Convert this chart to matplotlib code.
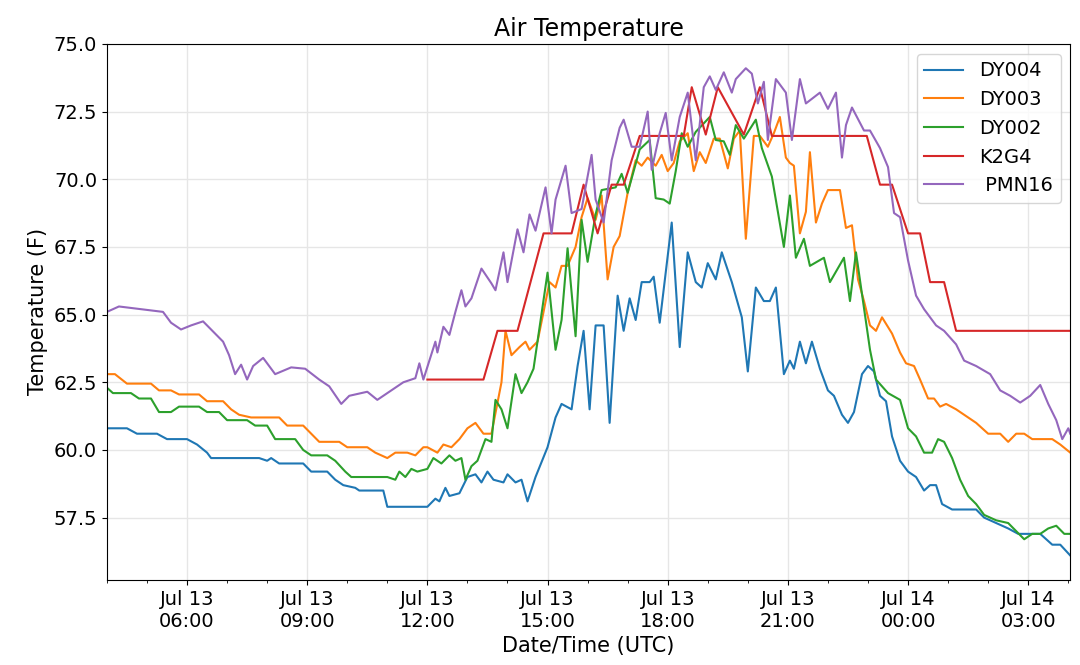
import matplotlib
matplotlib.use("Agg")
import matplotlib.pyplot as plt
import matplotlib.dates as mdates
import numpy as np
from datetime import datetime, timedelta

# hours since 2019-07-13 00:00 UTC, temperature in F
dy004_h = [4.0, 4.5, 4.75, 5.25, 5.5, 6.0, 6.25, 6.5, 6.6, 7.8, 8.0, 8.1, 8.3, 8.9, 9.1, 9.5, 9.7, 9.9, 10.2, 10.3,
           10.9, 11.0, 12.0, 12.2, 12.3, 12.45, 12.55, 12.8, 13.0, 13.2, 13.35, 13.5, 13.65, 13.9, 14.0, 14.2, 14.35,
           14.5, 14.7, 15.0, 15.2, 15.35, 15.6, 15.75, 15.9, 16.05, 16.2, 16.4, 16.55, 16.75, 16.9, 17.05, 17.2, 17.35,
           17.55, 17.65, 17.8, 18.1, 18.3, 18.5, 18.7, 18.85, 19.0, 19.2, 19.35, 19.6, 19.85, 20.0, 20.2, 20.4, 20.55,
           20.7, 20.9, 21.05, 21.15, 21.3, 21.45, 21.6, 21.8, 22.0, 22.15, 22.35, 22.5, 22.65, 22.85, 23.0, 23.15,
           23.3, 23.45, 23.6, 23.8, 24.0, 24.2, 24.4, 24.55, 24.7, 24.85, 25.1, 25.4, 25.7, 25.9, 26.2, 26.5, 26.75,
           27.3, 27.6, 27.8, 28.05]
dy004_v = [60.8, 60.8, 60.6, 60.6, 60.4, 60.4, 60.2, 59.9, 59.7, 59.7, 59.6, 59.7, 59.5, 59.5, 59.2, 59.2, 58.9, 58.7,
           58.6, 58.5, 58.5, 57.9, 57.9, 58.2, 58.1, 58.6, 58.3, 58.4, 59.0, 59.1, 58.8, 59.2, 58.9, 58.8, 59.1, 58.8,
           58.9, 58.1, 59.0, 60.1, 61.2, 61.7, 61.5, 63.1, 64.4, 61.5, 64.6, 64.6, 61.0, 65.7, 64.4, 65.6, 64.8, 66.2,
           66.2, 66.4, 64.7, 68.4, 63.8, 67.3, 66.2, 66.0, 66.9, 66.3, 67.3, 66.2, 64.9, 62.9, 66.0, 65.5, 65.5, 66.0,
           62.8, 63.3, 63.0, 64.0, 63.2, 64.0, 63.0, 62.2, 62.0, 61.3, 61.0, 61.4, 62.8, 63.1, 62.9, 62.0, 61.8, 60.5,
           59.6, 59.2, 59.0, 58.5, 58.7, 58.7, 58.0, 57.8, 57.8, 57.8, 57.5, 57.3, 57.1, 56.9, 56.9, 56.5, 56.5, 56.1]

dy003_h = [4.0, 4.2, 4.5, 5.1, 5.3, 5.6, 5.8, 6.3, 6.5, 6.9, 7.1, 7.3, 7.6, 8.3, 8.5, 8.9, 9.1, 9.3, 9.8, 10.0, 10.5,
           10.7, 11.0, 11.2, 11.5, 11.7, 11.9, 12.0, 12.25, 12.4, 12.6, 12.8, 13.0, 13.2, 13.4, 13.6, 13.85, 13.95,
           14.1, 14.3, 14.45, 14.55, 14.75, 14.9, 15.05, 15.2, 15.35, 15.5, 15.7, 15.85, 16.0, 16.2, 16.35, 16.5,
           16.65, 16.8, 17.0, 17.2, 17.35, 17.5, 17.7, 17.85, 18.0, 18.15, 18.3, 18.5, 18.65, 18.8, 18.95, 19.15,
           19.3, 19.5, 19.65, 19.8, 19.95, 20.15, 20.3, 20.5, 20.65, 20.8, 20.95, 21.05, 21.15, 21.3, 21.45, 21.55,
           21.7, 21.85, 22.0, 22.3, 22.45, 22.6, 22.75, 22.9, 23.05, 23.2, 23.35, 23.6, 23.8, 23.95, 24.15, 24.3,
           24.5, 24.65, 24.8, 24.95, 25.2, 25.5, 25.7, 26.0, 26.3, 26.5, 26.7, 26.9, 27.1, 27.6, 27.8, 28.05]
dy003_v = [62.8, 62.8, 62.45, 62.45, 62.2, 62.2, 62.05, 62.05, 61.8, 61.8, 61.5, 61.3, 61.2, 61.2, 60.9, 60.9, 60.6,
           60.3, 60.3, 60.1, 60.1, 59.9, 59.7, 59.9, 59.9, 59.8, 60.1, 60.1, 59.9, 60.2, 60.1, 60.4, 60.8, 61.0, 60.6,
           60.6, 62.5, 64.4, 63.5, 63.8, 64.0, 63.7, 64.0, 65.1, 66.2, 66.0, 66.8, 66.8, 67.5, 68.6, 69.3, 68.5, 69.4,
           66.3, 67.5, 67.9, 69.5, 70.7, 70.5, 70.8, 70.5, 70.9, 70.3, 70.6, 71.4, 71.7, 70.3, 71.0, 70.6, 71.5, 71.5,
           70.4, 71.5, 71.8, 67.8, 71.6, 71.6, 71.2, 71.7, 72.3, 70.8, 70.6, 70.5, 68.0, 68.8, 71.0, 68.4, 69.1, 69.6,
           69.6, 68.2, 68.3, 66.3, 65.5, 64.6, 64.4, 64.9, 64.3, 63.6, 63.2, 63.1, 62.6, 61.9, 61.9, 61.6, 61.7, 61.5,
           61.2, 61.0, 60.6, 60.6, 60.3, 60.6, 60.6, 60.4, 60.4, 60.2, 59.9]

dy002_h = [4.0, 4.15, 4.6, 4.8, 5.1, 5.3, 5.6, 5.8, 6.3, 6.5, 6.8, 7.0, 7.5, 7.7, 8.0, 8.2, 8.7, 8.9, 9.1, 9.5, 9.7,
           9.95, 10.1, 11.0, 11.2, 11.3, 11.45, 11.6, 11.75, 12.0, 12.15, 12.35, 12.55, 12.7, 12.85, 12.95, 13.1,
           13.25, 13.45, 13.6, 13.7, 13.85, 14.0, 14.2, 14.35, 14.5, 14.65, 15.0, 15.2, 15.35, 15.5, 15.7, 15.85,
           16.0, 16.2, 16.35, 16.7, 16.85, 17.0, 17.3, 17.55, 17.7, 17.9, 18.05, 18.2, 18.35, 18.5, 18.7, 19.05,
           19.2, 19.4, 19.55, 19.7, 19.9, 20.2, 20.35, 20.6, 20.9, 21.05, 21.2, 21.4, 21.55, 21.9, 22.05, 22.4,
           22.55, 22.7, 23.05, 23.2, 23.5, 23.8, 24.0, 24.2, 24.4, 24.6, 24.75, 24.9, 25.1, 25.3, 25.5, 25.7, 25.9,
           26.2, 26.5, 26.7, 26.9, 27.1, 27.3, 27.5, 27.7, 27.9, 28.05]
dy002_v = [62.3, 62.1, 62.1, 61.9, 61.9, 61.4, 61.4, 61.6, 61.6, 61.4, 61.4, 61.1, 61.1, 60.9, 60.9, 60.4, 60.4, 60.0,
           59.8, 59.8, 59.6, 59.2, 59.0, 59.0, 58.9, 59.2, 59.0, 59.3, 59.2, 59.3, 59.7, 59.5, 59.8, 59.6, 59.7, 58.9,
           59.4, 59.6, 60.4, 60.3, 61.85, 61.5, 60.8, 62.8, 62.1, 62.5, 63.0, 66.55, 63.7, 64.8, 67.45, 64.2, 68.5,
           66.95, 68.7, 69.6, 69.7, 70.2, 69.5, 71.1, 71.45, 69.3, 69.25, 69.1, 70.3, 71.7, 71.2, 71.75, 72.3, 71.45,
           71.4, 70.9, 72.0, 71.5, 72.2, 71.15, 70.1, 67.5, 69.4, 67.1, 67.8, 66.8, 67.1, 66.2, 67.1, 65.5, 67.3,
           63.7, 62.6, 62.1, 61.85, 60.8, 60.5, 59.9, 59.9, 60.4, 60.3, 59.7, 58.9, 58.3, 58.0, 57.6, 57.4, 57.3, 57.0,
           56.7, 56.9, 56.9, 57.1, 57.2, 56.9, 56.9]

k2g4_h = [12.0, 13.4, 13.75, 14.25, 14.9, 15.6, 15.9, 16.25, 16.6, 16.9, 17.3, 18.4, 18.6, 18.95, 19.25, 19.9, 20.3,
          20.6, 22.97, 23.3, 23.6, 24.0, 24.3, 24.55, 24.9, 25.2, 28.05]
k2g4_v = [62.6, 62.6, 64.4, 64.4, 68.0, 68.0, 69.8, 68.0, 69.8, 69.8, 71.6, 71.6, 73.4, 71.65, 73.4, 71.65, 73.4,
          71.6, 71.6, 69.8, 69.8, 68.0, 68.0, 66.2, 66.2, 64.4, 64.4]

pmn16_h = [4.0, 4.3, 5.4, 5.6, 5.85, 6.1, 6.4, 6.6, 6.9, 7.05, 7.2, 7.35, 7.5, 7.65, 7.9, 8.2, 8.6, 8.95, 9.3, 9.55,
           9.85, 10.05, 10.5, 10.75, 11.05, 11.4, 11.7, 11.8, 11.9, 12.2, 12.25, 12.4, 12.55, 12.7, 12.85, 12.95,
           13.1, 13.35, 13.6, 13.7, 13.9, 14.0, 14.25, 14.4, 14.55, 14.7, 14.95, 15.1, 15.2, 15.45, 15.6, 15.85,
           16.1, 16.2, 16.4, 16.6, 16.8, 16.9, 17.1, 17.3, 17.5, 17.6, 17.8, 17.95, 18.1, 18.3, 18.5, 18.7, 18.9,
           19.05, 19.2, 19.4, 19.6, 19.7, 19.95, 20.1, 20.25, 20.4, 20.5, 20.7, 20.95, 21.1, 21.3, 21.45, 21.8,
           22.0, 22.2, 22.35, 22.45, 22.6, 22.9, 23.05, 23.3, 23.5, 23.65, 23.8, 24.0, 24.2, 24.4, 24.7, 24.9, 25.2,
           25.4, 25.7, 26.05, 26.3, 26.55, 26.8, 27.05, 27.3, 27.5, 27.7, 27.85, 28.0, 28.05]
pmn16_v = [65.1, 65.3, 65.1, 64.7, 64.45, 64.6, 64.75, 64.45, 64.0, 63.5, 62.8, 63.15, 62.6, 63.1, 63.4, 62.8, 63.05,
           63.0, 62.6, 62.35, 61.7, 62.0, 62.15, 61.85, 62.15, 62.5, 62.65, 63.2, 62.6, 64.0, 63.6, 64.55, 64.25, 65.1,
           65.9, 65.3, 65.6, 66.7, 66.15, 65.9, 67.3, 66.2, 68.15, 67.3, 68.7, 68.1, 69.7, 68.0, 69.25, 70.5, 68.75,
           68.9, 70.9, 69.25, 68.4, 70.7, 71.9, 72.2, 71.2, 71.2, 72.5, 70.35, 71.7, 72.45, 70.7, 72.3, 73.2, 70.7,
           73.4, 73.8, 73.3, 73.95, 73.2, 73.7, 74.1, 73.9, 72.8, 73.6, 71.45, 73.7, 73.2, 71.45, 73.7, 72.8, 73.2,
           72.6, 73.2, 70.8, 72.0, 72.65, 71.8, 71.8, 71.15, 70.45, 68.75, 68.6, 67.0, 65.7, 65.2, 64.6, 64.4, 63.9,
           63.3, 63.1, 62.8, 62.2, 62.0, 61.75, 62.0, 62.4, 61.7, 61.1, 60.4, 60.8, 60.6]

names = ["DY004", "DY003", "DY002", "K2G4", " PMN16"]
series = [(dy004_h, dy004_v), (dy003_h, dy003_v), (dy002_h, dy002_v), (k2g4_h, k2g4_v), (pmn16_h, pmn16_v)]
colors = ["#1f77b4", "#ff7f0e", "#2ca02c", "#d62728", "#9467bd"]

base = datetime(2019, 7, 13)
def to_dt(hours):
    return [base + timedelta(hours=h) for h in hours]

fig = plt.figure(figsize=(10.8, 6.65), dpi=100)
ax = fig.add_axes([0.099, 0.128, 0.892, 0.806])
for (h, v), name, c in zip(series, names, colors):
    ax.plot(to_dt(h), v, color=c, lw=1.5, label=name)

ax.set_xlim(base + timedelta(hours=4), base + timedelta(hours=28.05))
ax.set_ylim(55.2, 75.0)
ax.set_yticks(np.arange(57.5, 75.1, 2.5))
ax.yaxis.set_major_formatter(matplotlib.ticker.FormatStrFormatter("%.1f"))
ax.xaxis.set_major_locator(mdates.HourLocator(byhour=[0, 3, 6, 9, 12, 15, 18, 21]))
ax.xaxis.set_minor_locator(mdates.HourLocator())
ax.xaxis.set_major_formatter(mdates.DateFormatter("%b %d\n%H:%M"))
ax.grid(True, color="#e6e6e6", lw=1)
ax.tick_params(labelsize=14)
ax.set_title("Air Temperature", fontsize=17)
ax.set_xlabel("Date/Time (UTC)", fontsize=15)
ax.set_ylabel("Temperature (F)", fontsize=15)
ax.legend(loc="upper right", fontsize=14)
fig.savefig("out.png")
